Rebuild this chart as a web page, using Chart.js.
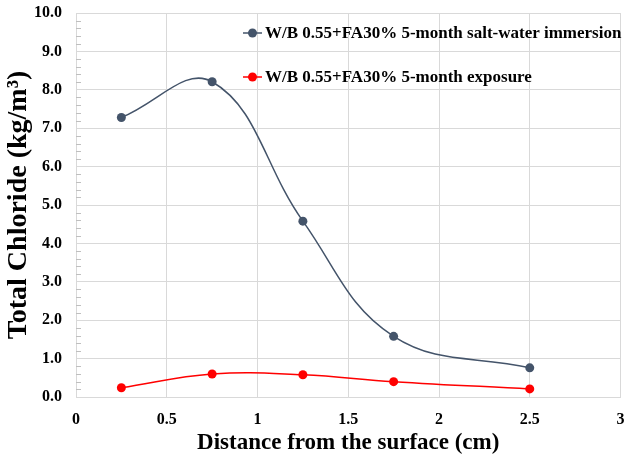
<!DOCTYPE html>
<html>
<head>
<meta charset="utf-8">
<script src="https://cdn.jsdelivr.net/npm/chart.js@4"></script>
<style>
  html, body { margin: 0; padding: 0; background: #fff; }
  #wrap { width: 625px; height: 459px; }
</style>
</head>
<body>
<div id="wrap"><canvas id="chloride-chart" width="625" height="459"></canvas></div>
<script>
// distance from surface (cm)
const distances = [0.25, 0.75, 1.25, 1.75, 2.5];
// total chloride (kg/m3)
const immersionValues = [7.28, 8.21, 4.58, 1.58, 0.76];
const exposureValues = [0.24, 0.6, 0.58, 0.4, 0.21];
const seriesLabels = [
    'W/B 0.55+FA30% 5-month salt-water immersion',
    'W/B 0.55+FA30% 5-month exposure'
];
const seriesColors = ['#44546A', '#FF0000'];
const xTickValues = [0, 0.5, 1, 1.5, 2, 2.5, 3];
const yTickValues = [0, 1, 2, 3, 4, 5, 6, 7, 8, 9, 10];
const MINOR_STEP = 0.2;

const SERIF = '"Liberation Serif", "Times New Roman", serif';
const GRID = '#d9d9d9';

function toPoints(values) {
    return distances.map((d, i) => ({ x: d, y: values[i] }));
}

// small inside tick marks on the value axis, like the Excel original
const minorTicks = {
    id: 'minorTicks',
    afterDraw(chart) {
        const y = chart.scales.y, area = chart.chartArea, ctx = chart.ctx;
        ctx.save();
        ctx.strokeStyle = '#bfbfbf';
        ctx.lineWidth = 1;
        const steps = Math.round((y.max - y.min) / MINOR_STEP);
        for (let i = 1; i < steps; i++) {
            const v = y.min + i * MINOR_STEP;
            if (Math.abs(v - Math.round(v)) < 1e-6) continue;
            const py = Math.round(y.getPixelForValue(v)) + 0.5;
            ctx.beginPath();
            ctx.moveTo(area.left, py);
            ctx.lineTo(area.left + 5, py);
            ctx.stroke();
        }
        ctx.restore();
    }
};

// legend drawn inside the plot, upper right
const insideLegend = {
    id: 'insideLegend',
    afterDraw(chart) {
        const ctx = chart.ctx;
        const rows = [33, 77];
        ctx.save();
        chart.data.datasets.forEach((ds, i) => {
            const yy = rows[i];
            ctx.strokeStyle = ds.borderColor;
            ctx.lineWidth = 1.5;
            ctx.beginPath();
            ctx.moveTo(243, yy);
            ctx.lineTo(262, yy);
            ctx.stroke();
            ctx.fillStyle = ds.borderColor;
            ctx.beginPath();
            ctx.arc(252.5, yy, 4.5, 0, Math.PI * 2);
            ctx.fill();
            ctx.fillStyle = '#000';
            ctx.font = 'bold 17px ' + SERIF;
            ctx.textBaseline = 'middle';
            ctx.textAlign = 'left';
            ctx.fillText(ds.label, 265, yy + 1);
        });
        ctx.restore();
    }
};

const ctx = document.querySelector('#chloride-chart').getContext('2d');
new Chart(ctx, {
    type: 'line',
    data: {
        datasets: [
            {
                label: seriesLabels[0],
                data: toPoints(immersionValues),
                borderColor: seriesColors[0],
                backgroundColor: seriesColors[0],
                borderWidth: 1.5,
                pointRadius: 4.5,
                pointBorderWidth: 0,
                tension: 0.4
            },
            {
                label: seriesLabels[1],
                data: toPoints(exposureValues),
                borderColor: seriesColors[1],
                backgroundColor: seriesColors[1],
                borderWidth: 1.5,
                pointRadius: 4.5,
                pointBorderWidth: 0,
                tension: 0.4
            }
        ]
    },
    options: {
        responsive: false,
        animation: false,
        layout: { padding: { top: 13, right: 4, left: 0, bottom: 0 } },
        plugins: {
            legend: { display: false },
            tooltip: { enabled: false }
        },
        scales: {
            x: {
                type: 'linear',
                min: 0,
                max: 3,
                afterFit(scale) {
                    scale.height = 62;
                    scale.paddingLeft = 0;
                    scale.paddingRight = 0;
                },
                afterBuildTicks(scale) { scale.ticks = xTickValues.map(v => ({ value: v })); },
                grid: { color: GRID, drawTicks: false },
                border: { color: GRID },
                ticks: {
                    padding: 13,
                    color: '#000',
                    font: { family: SERIF, size: 16, weight: 'bold' },
                    callback: v => String(v)
                },
                title: {
                    display: true,
                    text: 'Distance from the surface (cm)',
                    color: '#000',
                    font: { family: SERIF, size: 23, weight: 'bold', lineHeight: 1 },
                    padding: { top: 4, bottom: 4 }
                }
            },
            y: {
                min: 0,
                max: 10,
                afterFit(scale) {
                    scale.width = 76;
                    scale.paddingTop = 0;
                    scale.paddingBottom = 0;
                },
                afterBuildTicks(scale) { scale.ticks = yTickValues.map(v => ({ value: v })); },
                grid: { color: GRID, drawTicks: false },
                border: { color: GRID },
                ticks: {
                    padding: 14,
                    color: '#000',
                    font: { family: SERIF, size: 16, weight: 'bold' },
                    callback: v => v.toFixed(1)
                },
                title: {
                    display: true,
                    text: 'Total Chloride (kg/m³)',
                    color: '#000',
                    font: { family: SERIF, size: 28, weight: 'bold', lineHeight: 1 },
                    padding: { top: 5, bottom: 5 }
                }
            }
        }
    },
    plugins: [minorTicks, insideLegend]
});
</script>
</body>
</html>
